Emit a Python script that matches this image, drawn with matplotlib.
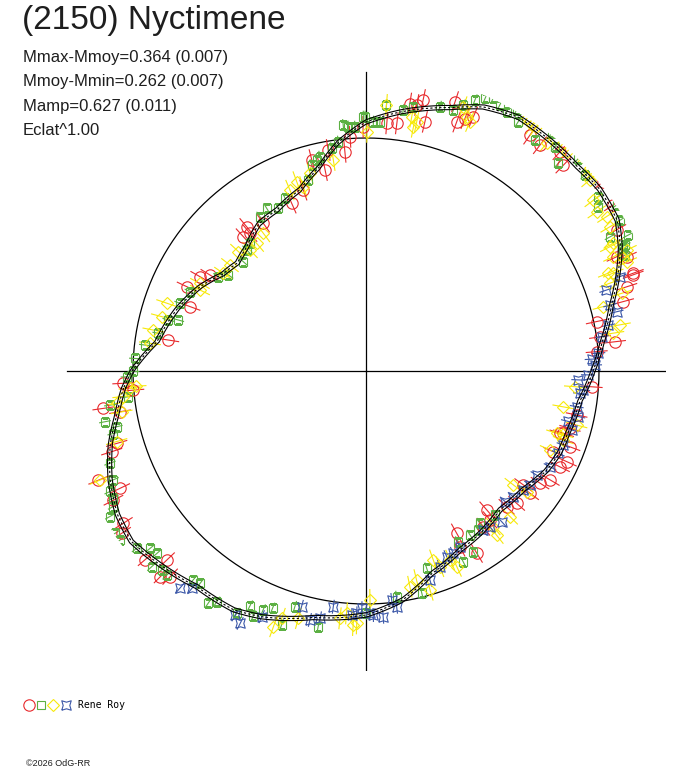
import numpy as np
import matplotlib
matplotlib.use("Agg")
import matplotlib.pyplot as plt
from matplotlib.lines import Line2D
from matplotlib.legend_handler import HandlerTuple

# ---------------- data ----------------
title = "(2150) Nyctimene"
info_lines = ["Mmax-Mmoy=0.364 (0.007)", "Mmoy-Mmin=0.262 (0.007)",
              "Mamp=0.627 (0.011)", "Eclat^1.00"]
observer = "Rene Roy"
credit = "\u00a92026 OdG-RR"

ref_radius = 233.0  # radius of reference circle (same units as radii below)

# mean light curve (angle in deg, radius)
curve_theta = [-176, -170, -164, -157, -150, -144, -136, -128, -119, -113, -102, -90,
               -81, -72, -62, -54, -46, -37, -29, -23, -17, -8, 0, 7, 15, 21, 26, 31,
               38, 44, 51, 59, 66, 72, 82, 90, 97, 103, 110, 119, 126, 134, 140, 146,
               153, 162, 172, 180]
curve_r = [243, 253, 266, 278, 287, 290, 282, 274, 273, 267, 252, 244,
           232, 213, 202, 198, 193, 197, 206, 210, 211, 216, 227, 238, 254, 270, 283, 293,
           296, 294, 295, 296, 289, 277, 262, 249, 230, 209, 193, 184, 182, 172, 168, 173,
           186, 199, 211, 234]
curve_sigma = 2.2

red_theta = [90.7, 85.2, 82.9, 80.7, 79.2, 78.1, 76.7, 71.7, 70, 68.6, 67.1, 55.2, 52.4, 48.5,
             46.2, 38.6, 33.9, 29.4, 23.7, 20.1, 93.9,
             95.5, 99.7, 101.5, 104.4, 109.1, 113.9, 124.8, 129.6, 132.4, 130.1, 148.4, 150.4,
             154.8, 159.9, 171.1, -177.1, -175.3,
             -171.9, -170.6, -162.4, -163.8, -157.8, -154.5, -152.9, -147.9, -146.4, -139.5,
             -136.5, -135, -133.6,
             -17.5, -20.4, -23.3, -24.3, -26.3, -30.6, -32.8, -36.7, -35.9, -41.3, -44, -49,
             -53, -58.7, -61.9, -60.8, -50.2,
             24.5, 19.8, 17.9, 15.1, 12.1, 8.3, 6.7, 4.8, -4, -11.8, -15.7, -17.8]
red_r = [244, 248.6, 249.6, 271, 270.8, 277, 256, 283.6, 265, 271, 276, 287, 285, 292.8,
         285, 303.5, 297.9, 287.6, 284.6, 284.6, 234.8,
         220.3, 224.2, 205, 217.9, 191.5, 183.4, 179.9, 187.2, 181.9, 180, 183.2, 190.9,
         198.1, 187.4, 200.1, 243, 233.5,
         265.3, 249.3, 266.8, 259.6, 289, 272.5, 283.7, 286.5, 293.3, 290.8,
         274.7, 291, 284,
         207, 217.6, 204, 220.2, 216.3, 213.9, 207, 204.6, 194.3, 200.5, 195.5, 184.1,
         195, 213.3, 199.3, 185.9, 193.8,
         275.5, 284, 274, 266.5, 235.9, 236.5, 250.7, 231.5, 226.2, 215.2, 211.9, 203.8]
red_err = 11

green_theta = [92.6, 90.2, 88.3, 86.8, 85.6, 81.9, 79.9, 74.4, 71.5, 69.9, 68.1, 66.4, 65, 63.3,
               61.5, 60, 58.6, 53.8, 52, 49.9, 47.2, 45, 41.8, 36.9, 35.3, 33.5, 30.7, 28.8,
               27.4, 25.5, 24.1, 25.9,
               90.6, 94.1, 95.3, 96.9, 98.8, 102.1, 104.8, 103.2, 106.8, 115.1, 121.4, 118.3,
               124.5, 132.3, 134.6, 138.3, 145.1, 147.4, 155.7, 160, 164.8, 165.5, 169.7, 173.3,
               176.9, 180, -178.6,
               -173.8, -172.4, -169, -167.4, -166.1, -160.2, -156.7, -154.8, -153.3, -151.8,
               -150.4, -147.1, -145.5, -142.3, -140.6, -138.9, -137.6, -135.8, -134.3, -129.6,
               -128, -124.2, -122.9, -116.3, -118.1, -114.7, -113.3, -111.5, -108.4, -106.8,
               -100.6, -90,
               -53.2, -54.8, -57.6, -61.6, -63, -59.3, -72.9, -75.9, -82.3, -48.1]
green_r = [244.5, 254.3, 249.4, 249.7, 266.8, 263.7, 268.5, 274.5, 275.2, 283.2, 292.1, 297.5, 301, 297.8,
           295, 301.4, 292.1, 286.2, 301.6, 293.3, 283, 300.5, 293.9, 290.4, 284.5, 300.7, 295.5, 278.5,
           295.5, 285, 283.8, 288,
           254.3, 245, 247, 231, 225.3, 219.2, 213, 216.7, 199.5, 190.7, 190.6, 184.8,
           187.2, 172.5, 169.9, 164.3, 167.9, 175.2, 193, 197.9, 194.5, 204.2, 211.1, 222.5,
           231.3, 232.7, 239.4,
           239.1, 258.2, 265.9, 255.4, 260.3, 272.1, 275.2, 283, 283, 286.8,
           294.6, 298.9, 298.5, 289.9, 279.5, 277.6, 290.2, 285.2, 285.2, 271.1,
           269.5, 280.3, 274.8, 262, 274.6, 269.7, 260.1, 255, 267.6, 246.2,
           260.1, 242.3,
           190.2, 194.7, 194.2, 194, 214.1, 210.1, 206.4, 229.2, 227.8, 193.3]
green_err = 6

yellow_theta = [89.8, 85.6, 79.8, 79, 78.5, 69.8, 68.4, 67.4, 57.5, 56, 55.1, 51.6, 49.1, 47.5,
                44.6, 42.1, 40.7, 40.5, 36.9, 34.6, 32.7, 30.6, 27.3, 24.8, 24.9, 22.7, 21.6,
                98.8, 105.8, 110.1, 112.8, 108.8, 126.7, 130.6, 133.8, 136.9, 142.1, 145.6, 152.2,
                154, 161.2, 165.1, 169.1, 172.7, -176.2, -174,
                -175.8, -172.6, -170.5, -164.2, -157.7,
                -109.9, -108.8, -105.3, -96, -92.9, -94.6,
                -92.1, -89, -78.5, -76.4, -73.7, -70.4, -69.3, -66, -65.1, -50.7, -51.5, -45.3,
                -37.7, -36.9, -23.2, -19.3, -14.4, -18.1,
                27, 23.7, 22, 19.8, 16.9, 15.2, 10.3, 8.7, -4.3, -10.3, -17.8]
yellow_r = [239.3, 266.8, 258.4, 248.8, 254.4, 281.6, 273.5, 270.1, 299.4, 296.6, 298, 290.7, 301.3, 297.3,
            305.2, 302.1, 313.1, 294.4, 284.4, 280.3, 285.9, 283.5, 278.3, 272.4, 287.4, 282.7, 265.9,
            213.5, 205.5, 201.6, 196.3, 194.7, 171.8, 168.1, 167.6, 174.8, 172.4, 172.9, 187.7,
            184.7, 210.5, 211.4, 216.6, 217.8, 231, 244,
            237, 251.4, 247.7, 259.1, 287.5,
            272, 261.3, 256.4, 248.7, 254.3, 243.1,
            252.5, 229, 220.1, 215, 228.2, 200.6, 209.2, 206.8, 215.7, 201.1, 209.7, 204.8,
            186.3, 201, 200.2, 209, 217.5, 200.6,
            273.8, 280.9, 261.3, 259.3, 267.2, 245.9, 258.1, 250.2, 209.6, 200.5, 206.8]
yellow_err = 11

blue_theta = [20.4, 18.6, 15.1, 13.3, 10.7, 8.3, 4.4, 1.5, -2.4, -6, -9.6, -12.1,
              -1, 3, -14, -16, -5,
              -20.6, -23.2, -27.5, -31.4, -34.8, -37.1, -40.5, -43.2, -48, -51.5, -53.6, -61.9,
              -64.4, -66.5, -69.3, -73, -82.6, -86, -89.1, -92.2, -83.6,
              -130.6, -128.7, -118.2, -116.5, -113, -105.3, -102.7, -100.5, -97.9, -93.4, -91, -88.3]
blue_r = [271, 253.3, 252.8, 257.6, 246.6, 238.2, 233, 229.1, 212.5, 215.2, 213.7, 217.2,
          222, 226, 208, 214, 218,
          210.7, 209.2, 207.4, 199.9, 199.7, 197.3, 193.7, 190.8, 202.8, 199, 197.6, 199.3,
          202.1, 202.5, 209.2, 218.6, 237.7, 246.3, 242.3, 242.5, 230.4,
          286, 278.6, 277, 282, 266.9, 244.3, 255.2, 251.5, 238, 244.4, 237.3, 244.1]
blue_err = 7

# ---------------- style ----------------
W, H = 688, 768
CX, CY = 366, 371
RMAX = 300
AXIS_LEN = 299

RED, GREEN, YELLOW, BLUE = "#e8292c", "#5cb043", "#f7e90a", "#3b57a8"
star_marker = [(-1, -1), (0, -0.7), (1, -1), (0.7, 0), (1, 1), (0, 0.7), (-1, 1), (-0.7, 0), (-1, -1)]
series = [
    (red_theta, red_r, red_err, RED, "o", 8.2),
    (green_theta, green_r, green_err, GREEN, "s", 6.2),
    (yellow_theta, yellow_r, yellow_err, YELLOW, "D", 5.8),
    (blue_theta, blue_r, blue_err, BLUE, star_marker, 6.8),
]

fig = plt.figure(figsize=(W / 100, H / 100), dpi=100)
fig.patch.set_facecolor("white")
ax = fig.add_axes([(CX - RMAX) / W, (H - CY - RMAX) / H, 2 * RMAX / W, 2 * RMAX / H],
                  projection="polar")
ax.set_ylim(0, RMAX)
ax.grid(False)
ax.set_xticks([])
ax.set_yticks([])
ax.spines["polar"].set_visible(False)
ax.patch.set_alpha(0)

# axes cross
for ang in (0, 90, 180, 270):
    ax.plot([np.deg2rad(ang)] * 2, [0, AXIS_LEN], color="black", lw=0.9, zorder=1)

# reference circle
tc = np.linspace(0, 2 * np.pi, 721)
ax.plot(tc, np.full_like(tc, ref_radius), color="black", lw=0.9, zorder=1)

# data points with radial error bars
for th, r, err, col, mk, ms in series:
    thr = np.deg2rad(th)
    ax.errorbar(thr, r, yerr=err, fmt="none", ecolor=col, elinewidth=0.8, capsize=0, zorder=2)
    ax.plot(thr, r, ls="none", marker=mk, mfc="none", mec=col, ms=ms, mew=0.8, zorder=3)

# mean curve with envelope (drawn as polar arcs between the read points)
ct = np.deg2rad(np.r_[curve_theta, curve_theta[0] + 360])
cr = np.r_[curve_r, curve_r[0]].astype(float)
for rr, ls in ((cr - curve_sigma, "-"), (cr + curve_sigma, "-"), (cr, (0, (2, 2)))):
    ln, = ax.plot(ct, rr, color="black", lw=0.8, ls=ls, zorder=4)
    ln.get_path()._interpolation_steps = 12

# texts
font = "Liberation Sans"
fig.text(22.5 / W, 1 - 29 / H, title, fontsize=24, family=font, color="#1e1e1e",
         va="baseline", ha="left")
for i, t in enumerate(info_lines):
    fig.text(23 / W, 1 - (61.7 + 24.4 * i) / H, t, fontsize=12, family=font,
             color="#1e1e1e", va="baseline", ha="left")
fig.text(26.5 / W, 1 - 766 / H, credit, fontsize=6.5, family=font, color="#1e1e1e",
         va="baseline", ha="left")

# legend
handles = tuple(Line2D([], [], ls="none", marker=mk, mfc="none", mec=col, ms=ms, mew=0.8)
                for _, _, _, col, mk, ms in series)
fig.legend([handles], [observer], handler_map={tuple: HandlerTuple(ndivide=None, pad=0)},
           loc="center left", bbox_to_anchor=(23 / W, 1 - 705 / H), frameon=False,
           borderpad=0, borderaxespad=0, handlelength=5.0, handletextpad=0.7,
           prop={"family": "DejaVu Sans Mono", "size": 7})

fig.savefig("out.png", dpi=100, facecolor="white")
